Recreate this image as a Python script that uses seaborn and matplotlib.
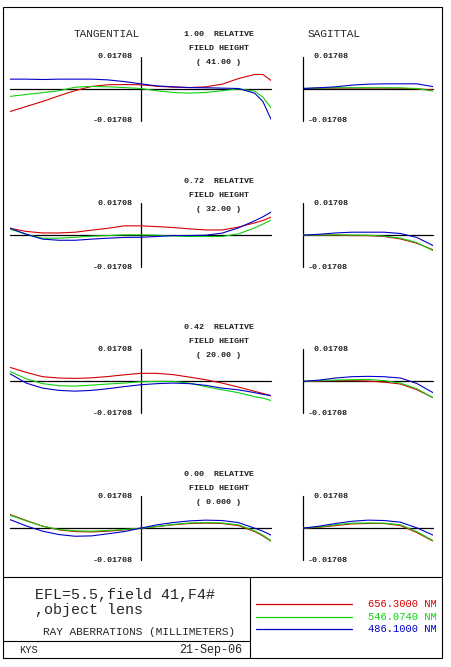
import numpy as np
import pandas as pd
import seaborn as sns
import matplotlib
matplotlib.use("Agg")
import matplotlib.pyplot as plt
from matplotlib.lines import Line2D
from matplotlib.patches import Rectangle

# ---------------- data ----------------
SCALE = 0.01708
WAVES = ["656.3000 NM", "546.0740 NM", "486.1000 NM"]
COLORS = ["#d40000", "#10d010", "#0000c8"]
FIELDS = ["1.00", "0.72", "0.42", "0.00"]
HEIGHTS = ["( 41.00 )", "( 32.00 )", "( 20.00 )", "( 0.000 )"]

P_T = [-1, -0.875, -0.75, -0.625, -0.5, -0.375, -0.25, -0.125, 0,
       0.125, 0.25, 0.375, 0.5, 0.625, 0.75, 0.875, 0.9375, 1]
P_S = [0, 0.125, 0.25, 0.375, 0.5, 0.625, 0.75, 0.875, 1]

# Tangential fans (mm), field 1.00 / 0.72 / 0.42 / 0.00
T1_R = [-0.0123, -0.0096, -0.0069, -0.0039, -0.0011, 0.0011, 0.0020, 0.0021, 0.0020,
        0.0012, 0.0007, 0.0005, 0.0009, 0.0023, 0.0053, 0.0075, 0.0075, 0.0043]
T1_G = [-0.0042, -0.0032, -0.0022, -0.0012, 0.0007, 0.0011, 0.0009, 0.0005, 0.0000,
        -0.0012, -0.0021, -0.0025, -0.0021, -0.0012, -0.0002, -0.0014, -0.0046, -0.0103]
T1_B = [0.0050, 0.0050, 0.0048, 0.0050, 0.0050, 0.0050, 0.0046, 0.0037, 0.0025,
        0.0014, 0.0009, 0.0005, 0.0004, 0.0002, 0.0000, -0.0025, -0.0069, -0.0164]

T2_R = [0.0037, 0.0020, 0.0012, 0.0012, 0.0016, 0.0027, 0.0037, 0.0050, 0.0050,
        0.0046, 0.0041, 0.0034, 0.0028, 0.0028, 0.0043, 0.0066, 0.0078, 0.0096]
T2_G = [0.0032, 0.0005, -0.0016, -0.0016, -0.0011, -0.0005, -0.0002, 0.0002, 0.0002,
        0.0000, -0.0004, -0.0007, -0.0007, -0.0007, 0.0007, 0.0039, 0.0059, 0.0080]
T2_B = [0.0037, 0.0005, -0.0021, -0.0027, -0.0027, -0.0021, -0.0016, -0.0012, -0.0011,
        -0.0007, -0.0002, -0.0002, 0.0000, 0.0011, 0.0039, 0.0077, 0.0098, 0.0123]

T3_R = [0.0075, 0.0048, 0.0025, 0.0018, 0.0016, 0.0019, 0.0026, 0.0035, 0.0043,
        0.0043, 0.0036, 0.0023, 0.0009, -0.0009, -0.0030, -0.0053, -0.0064, -0.0077]
T3_G = [0.0053, 0.0014, -0.0012, -0.0023, -0.0025, -0.0020, -0.0014, -0.0009, -0.0002,
        0.0000, 0.0000, -0.0009, -0.0028, -0.0045, -0.0060, -0.0082, -0.0089, -0.0102]
T3_B = [0.0041, -0.0009, -0.0036, -0.0048, -0.0052, -0.0048, -0.0039, -0.0028, -0.0018,
        -0.0012, -0.0009, -0.0012, -0.0021, -0.0036, -0.0045, -0.0060, -0.0069, -0.0075]

T4_R = [0.0073, 0.0041, 0.0011, -0.0009, -0.0018, -0.0020, -0.0016, -0.0009, 0.0000,
        0.0009, 0.0018, 0.0025, 0.0027, 0.0025, 0.0014, -0.0018, -0.0041, -0.0069]
T4_G = [0.0069, 0.0039, 0.0011, -0.0007, -0.0014, -0.0016, -0.0012, -0.0007, 0.0000,
        0.0009, 0.0020, 0.0028, 0.0030, 0.0028, 0.0018, -0.0014, -0.0037, -0.0066]
T4_B = [0.0046, 0.0012, -0.0016, -0.0034, -0.0043, -0.0041, -0.0030, -0.0018, 0.0000,
        0.0018, 0.0030, 0.0039, 0.0043, 0.0041, 0.0030, 0.0000, -0.0016, -0.0037]

# Sagittal fans (mm)
S1_R = [0, 0.0001, 0.0002, 0.0002, 0.0002, 0.0002, 0.0001, -0.0002, -0.0008]
S1_G = [0, 0.0002, 0.0004, 0.0004, 0.0004, 0.0004, 0.0003, 0.0000, -0.0014]
S1_B = [0, 0.0004, 0.0009, 0.0018, 0.0023, 0.0025, 0.0025, 0.0025, 0.0010]

S2_R = [0, 0.0000, 0.0000, -0.0002, -0.0002, -0.0007, -0.0020, -0.0043, -0.0078]
S2_G = [0, 0.0001, 0.0002, 0.0001, 0.0000, -0.0005, -0.0016, -0.0039, -0.0082]
S2_B = [0, 0.0005, 0.0012, 0.0016, 0.0016, 0.0016, 0.0009, -0.0012, -0.0055]

S3_R = [0, 0.0002, 0.0004, 0.0004, 0.0002, -0.0004, -0.0014, -0.0044, -0.0087]
S3_G = [0, 0.0004, 0.0007, 0.0009, 0.0011, 0.0004, -0.0009, -0.0039, -0.0087]
S3_B = [0, 0.0007, 0.0018, 0.0025, 0.0027, 0.0025, 0.0018, -0.0011, -0.0060]

S4_R = [0, 0.0005, 0.0014, 0.0023, 0.0025, 0.0025, 0.0014, -0.0023, -0.0069]
S4_G = [0, 0.0007, 0.0018, 0.0027, 0.0028, 0.0027, 0.0018, -0.0018, -0.0066]
S4_B = [0, 0.0011, 0.0025, 0.0037, 0.0043, 0.0041, 0.0032, 0.0002, -0.0037]

TANG = [(T1_R, T1_G, T1_B), (T2_R, T2_G, T2_B), (T3_R, T3_G, T3_B), (T4_R, T4_G, T4_B)]
SAG = [(S1_R, S1_G, S1_B), (S2_R, S2_G, S2_B), (S3_R, S3_G, S3_B), (S4_R, S4_G, S4_B)]

# ---------------- figure ----------------
sns.set_style("white")
plt.rcParams["font.family"] = ["Liberation Mono", "DejaVu Sans Mono"]

W, H = 451, 667
fig = plt.figure(figsize=(W / 100, H / 100), dpi=100)
fig.patch.set_facecolor("white")


def fx(x):
    return x / W


def fy(y):
    return 1 - y / H


def ptxt(x, y, s, **kw):
    fig.text(fx(x), fy(y), s, va="center", **kw)


def make_df(xs, series):
    frames = []
    for name, vals in zip(WAVES, series):
        frames.append(pd.DataFrame({"p": xs, "ab": vals, "wave": name}))
    return pd.concat(frames, ignore_index=True)


CENTERS = [88.5, 235.2, 381.4, 528.2]
HALF = 32
pal = dict(zip(WAVES, COLORS))
SMALL = dict(fontsize=6, fontweight="bold", color="#202020")

for i, yc in enumerate(CENTERS):
    # tangential
    axt = fig.add_axes([fx(10), fy(yc + HALF), 261 / W, 2 * HALF / H])
    sns.lineplot(data=make_df(P_T, TANG[i]), x="p", y="ab", hue="wave",
                 palette=pal, legend=False, sort=False, ax=axt, lw=0.8,
                 estimator=None)
    axt.axhline(0, color="black", lw=0.9, zorder=0, clip_on=False)
    axt.axvline(0, color="black", lw=0.9, zorder=0, clip_on=False)
    axt.set_xlim(-1, 1)
    axt.set_ylim(-SCALE, SCALE)
    axt.axis("off")

    # sagittal
    axs = fig.add_axes([fx(303), fy(yc + HALF), 130 / W, 2 * HALF / H])
    sns.lineplot(data=make_df(P_S, SAG[i]), x="p", y="ab", hue="wave",
                 palette=pal, legend=False, sort=False, ax=axs, lw=0.8,
                 estimator=None)
    axs.axhline(0, color="black", lw=0.9, zorder=0, clip_on=False)
    axs.axvline(0, color="black", lw=0.9, zorder=0, clip_on=False)
    axs.set_xlim(0, 1)
    axs.set_ylim(-SCALE, SCALE)
    axs.axis("off")

    # scale labels
    ptxt(133, yc - HALF, "0.01708", ha="right", **SMALL)
    ptxt(133, yc + HALF, "-0.01708", ha="right", **SMALL)
    ptxt(348, yc - HALF, "0.01708", ha="right", **SMALL)
    ptxt(348, yc + HALF, "-0.01708", ha="right", **SMALL)

    # field labels
    ptxt(219, yc - 54, FIELDS[i] + "  RELATIVE", ha="center", **SMALL)
    ptxt(219, yc - 40, "FIELD HEIGHT", ha="center", **SMALL)
    ptxt(219, yc - 26, HEIGHTS[i], ha="center", **SMALL)

ptxt(107, 34, "TANGENTIAL", ha="center", fontsize=8)
ptxt(334, 34, "SAGITTAL", ha="center", fontsize=8)

# ---------------- frame / title block ----------------
def fline(x0, y0, x1, y1, color="black", lw=0.8):
    fig.add_artist(Line2D([fx(x0), fx(x1)], [fy(y0), fy(y1)], color=color, lw=lw))


fig.add_artist(Rectangle((fx(3), fy(658)), 439 / W, 651 / H, fill=False,
                         edgecolor="black", lw=0.8))
fline(3, 577, 442, 577)
fline(250, 577, 250, 658)
fline(3, 641, 250, 641)

ptxt(35, 595, "EFL=5.5,field 41,F4#", ha="left", fontsize=10.8)
ptxt(35, 610, ",object lens", ha="left", fontsize=10.8)
ptxt(139, 632, "RAY ABERRATIONS (MILLIMETERS)", ha="center", fontsize=8)
ptxt(19, 650, "KYS", ha="left", fontsize=7.5)
ptxt(242, 650, "21-Sep-06", ha="right", fontsize=8.5)

for k, (name, col) in enumerate(zip(WAVES, COLORS)):
    yy = [604, 617, 629][k]
    fline(256, yy, 352, yy, color=col, lw=0.9)
    ptxt(437, yy, name, ha="right", fontsize=7.5, color=col)

fig.savefig("out.png", dpi=100, facecolor="white")
